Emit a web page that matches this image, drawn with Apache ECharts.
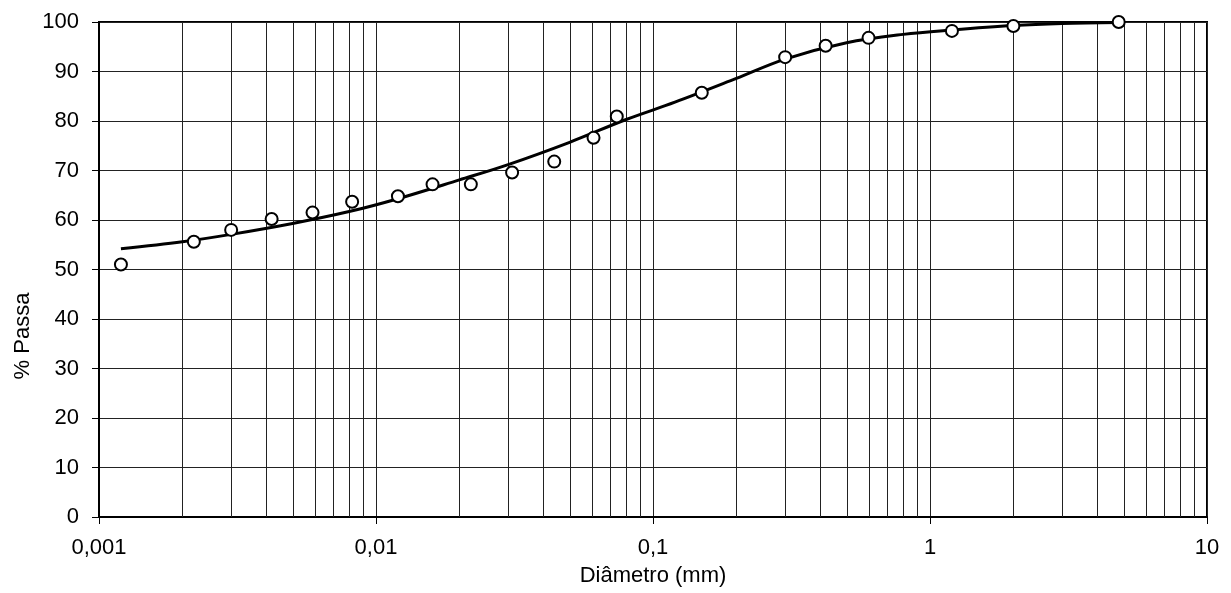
<!DOCTYPE html>
<html>
<head>
<meta charset="utf-8">
<script src="https://cdn.jsdelivr.net/npm/echarts@6/dist/echarts.min.js"></script>
<style>
  html, body { margin: 0; padding: 0; background: #fff; }
  #chart { width: 1231px; height: 593px; }
</style>
</head>
<body>
<div id="chart"></div>
<script>
// Measured grain sizes (mm) and percentage passing
const diameters = [0.0012, 0.0022, 0.0030, 0.0042, 0.0059, 0.0082, 0.012, 0.016, 0.022, 0.031,
                   0.044, 0.061, 0.074, 0.15, 0.30, 0.42, 0.60, 1.2, 2.0, 4.8];
const passing   = [51.0, 55.6, 58.0, 60.2, 61.5, 63.7, 64.8, 67.2, 67.2, 69.6,
                   71.8, 76.6, 80.9, 85.7, 92.9, 95.2, 96.8, 98.2, 99.2, 100];

// Fitted grading curve
const curveD = [0.0012, 0.002, 0.003, 0.005, 0.008, 0.012, 0.02, 0.03, 0.05, 0.08,
                0.12, 0.2, 0.3, 0.5, 0.8, 1.2, 2, 3, 4.8];
const curveP = [54.2, 55.6, 57.1, 59.3, 61.7, 64.3, 68.1, 71.2, 75.7, 80.3,
                83.8, 88.6, 92.5, 95.8, 97.5, 98.4, 99.3, 99.7, 99.9];

// Axis ranges and minor grid multipliers
const xMin = 0.001, xMax = 10;
const yMin = 0, yMax = 100, yStep = 10;
const minorMultipliers = [2, 3, 4, 5, 6, 7, 8, 9];

const minorValues = [];
for (let d = xMin; d < xMax * 0.999; d *= 10) {
  minorMultipliers.forEach(m => minorValues.push(+(d * m).toPrecision(3)));
}

const FONT = '"Liberation Sans", Arial, sans-serif';
const GRID_COLOR = '#222';
const chart = echarts.init(document.getElementById('chart'), null, { renderer: 'canvas' });

chart.setOption({
  animation: false,
  backgroundColor: '#fff',
  grid: {
    left: 99, right: 24, top: 22, bottom: 76,
    show: true, borderColor: '#000', borderWidth: 2, backgroundColor: 'transparent'
  },
  graphic: [{
    type: 'text',
    x: 23, y: 336,
    rotation: Math.PI / 2,
    style: {
      text: '% Passa',
      font: '22px ' + FONT,
      fill: '#000',
      textAlign: 'center',
      textVerticalAlign: 'middle'
    }
  }],
  xAxis: {
    type: 'log',
    logBase: 10,
    min: xMin,
    max: xMax,
    name: 'Diâmetro (mm)',
    nameLocation: 'middle',
    nameGap: 48,
    nameTextStyle: { fontFamily: FONT, fontSize: 22, color: '#000' },
    axisLine: { show: true, lineStyle: { color: '#000', width: 2 } },
    axisTick: { show: true, length: 7, lineStyle: { color: '#000', width: 1 } },
    axisLabel: {
      margin: 20, fontFamily: FONT, fontSize: 22, color: '#000',
      formatter: v => String(Number(Number(v).toPrecision(4))).replace('.', ',')
    },
    splitLine: { show: true, lineStyle: { color: GRID_COLOR, width: 1 } }
  },
  yAxis: {
    type: 'value',
    min: yMin,
    max: yMax,
    interval: yStep,
    axisLine: { show: true, lineStyle: { color: '#000', width: 2 } },
    axisTick: { show: true, length: 7, lineStyle: { color: '#000', width: 1 } },
    axisLabel: { margin: 20, fontFamily: FONT, fontSize: 22, color: '#000' },
    splitLine: { show: true, lineStyle: { color: GRID_COLOR, width: 1 } }
  },
  series: [
    {
      // minor vertical grid lines at 2..9 of each decade
      type: 'custom',
      silent: true,
      z: 1,
      data: minorValues.map(v => [v, yMin]),
      encode: { x: 0, y: 1 },
      renderItem: (params, api) => {
        const v = api.value(0);
        const p0 = api.coord([v, yMin]);
        const p1 = api.coord([v, yMax]);
        const x = Math.round(p0[0]) + 0.5;
        return {
          type: 'line',
          shape: { x1: x, y1: p0[1], x2: x, y2: p1[1] },
          style: { stroke: GRID_COLOR, lineWidth: 1 }
        };
      }
    },
    {
      name: 'curve',
      type: 'line',
      data: curveD.map((d, i) => [d, curveP[i]]),
      smooth: 0.35,
      showSymbol: false,
      symbol: 'none',
      z: 3,
      lineStyle: { color: '#000', width: 3 }
    },
    {
      name: 'ensaio',
      type: 'scatter',
      data: diameters.map((d, i) => [d, passing[i]]),
      symbol: 'circle',
      symbolSize: 12,
      z: 4,
      itemStyle: { color: '#fff', borderColor: '#000', borderWidth: 2, opacity: 1 }
    }
  ]
});
</script>
</body>
</html>
